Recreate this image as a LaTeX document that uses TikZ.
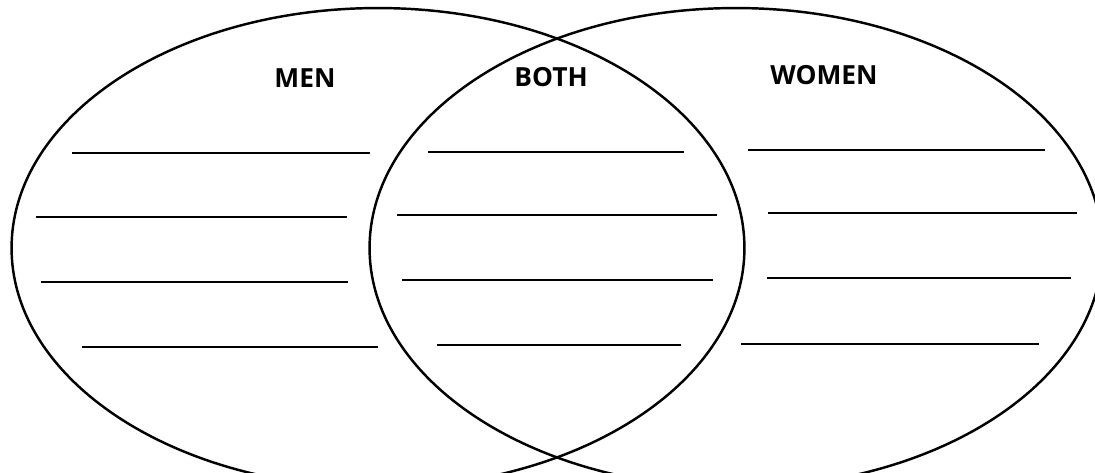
\documentclass[tikz,border=0pt]{standalone}
\usepackage{fontspec}
\setmainfont{Open Sans}
\usetikzlibrary{shapes.geometric, positioning}
\tikzset{
  setring/.style={ellipse, draw=black, line width=1.4pt, inner sep=0pt,
    minimum width=14.66cm, minimum height=9.6cm},
  heading/.style={font=\bfseries\fontsize{15}{18}\selectfont, inner sep=0pt},
  rule/.style={line width=0.8pt}
}
\begin{document}
\begin{tikzpicture}[x=0.02cm, y=-0.02cm]
  \clip (0,0) rectangle (1095,473);
  \fill[white] (0,0) rectangle (1095,473);

  % Sets
  \node[setring] (men) at (378,248) {};
  \node[setring] (women) at (736,248) {};

  % Headings
  \node[heading] (menlbl) at (305,78) {MEN};
  \node[heading] (bothlbl) at (551,77) {BOTH};
  \node[heading] (womenlbl) at (824,75) {WOMEN};

  % Writing lines
  \foreach \ya/\xa/\xb in {153/72/370, 217/36/347, 282/41/348, 347/82/378,
                           152/428/684, 215/397/717, 280/402/713, 345/437/681,
                           150/748/1045, 213/768/1077, 278/767/1071, 344/741/1039}
    \draw[rule] (\xa,\ya) -- (\xb,\ya);
\end{tikzpicture}
\end{document}
